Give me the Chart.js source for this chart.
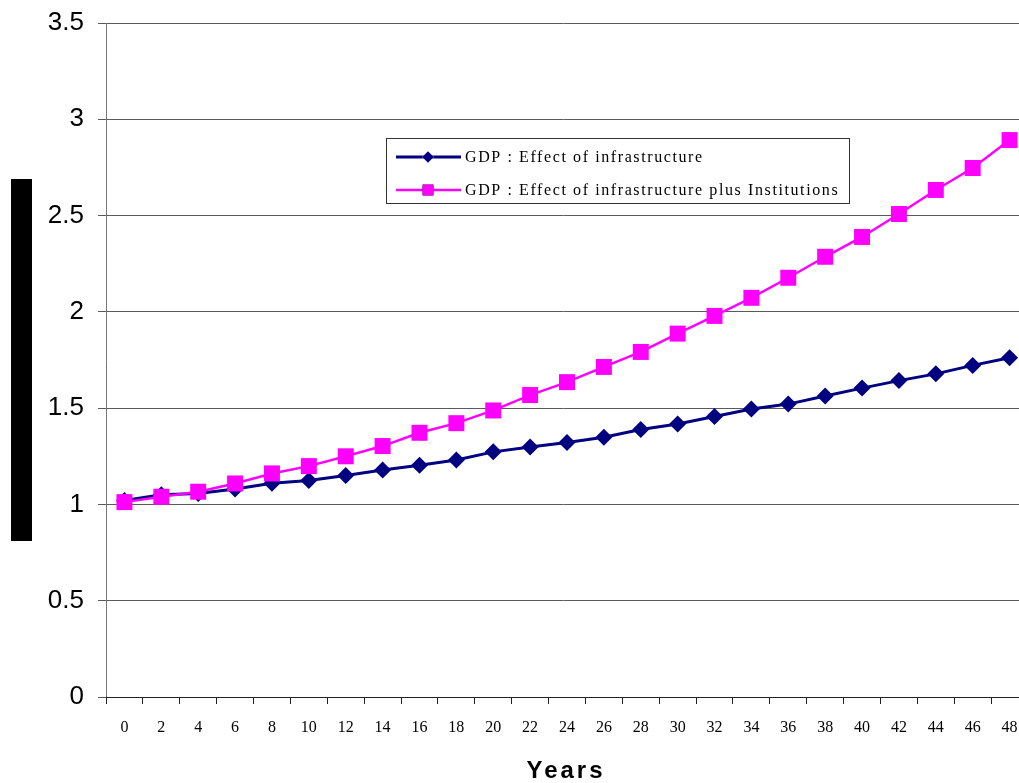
<!DOCTYPE html>
<html>
<head>
<meta charset="utf-8">
<script src="https://cdn.jsdelivr.net/npm/chart.js@4/dist/chart.umd.min.js"></script>
<style>
  html, body { margin: 0; padding: 0; background: #fff; overflow: hidden; }
  #wrap { width: 1019px; height: 783px; }
</style>
</head>
<body>
<div id="wrap"><canvas id="c" width="1019" height="783"></canvas></div>
<script>
// Years since the start of the simulation
const years = [0, 2, 4, 6, 8, 10, 12, 14, 16, 18, 20, 22, 24, 26, 28, 30, 32, 34, 36, 38, 40, 42, 44, 46, 48];

// GDP index (start = 1)
const gdpInfrastructure = [1.02, 1.05, 1.057, 1.08, 1.11, 1.124, 1.15, 1.179, 1.203, 1.231, 1.273, 1.298, 1.322,
  1.349, 1.389, 1.418, 1.457, 1.496, 1.521, 1.563, 1.604, 1.643, 1.678, 1.722, 1.762];
const gdpInfrastructureInstitutions = [1.012, 1.04, 1.066, 1.109, 1.161, 1.199, 1.25, 1.303, 1.372, 1.422, 1.488,
  1.568, 1.635, 1.714, 1.792, 1.887, 1.979, 2.073, 2.177, 2.286, 2.389, 2.508, 2.633, 2.747, 2.892];

const seriesNames = ['GDP : Effect of infrastructure', 'GDP : Effect of infrastructure plus Institutions'];
const axisTitleX = 'Years';

const NAVY = '#000080';
const MAGENTA = '#FF00FF';

// The plot area runs a little past the right edge of the canvas
const extendRight = {
  id: 'extendRight',
  afterLayout(chart) {
    const extra = 9;
    const x = chart.scales.x;
    x.right += extra;
    x.width += extra;
    chart.chartArea.right += extra;
    chart.chartArea.width += extra;
    x.configure();
  }
};

// Boxed legend inside the plot, the x-axis title and the dark bar beside the value axis
const decorations = {
  id: 'decorations',
  afterDraw(chart) {
    const ctx = chart.ctx;
    const hasSpacing = 'letterSpacing' in ctx;
    ctx.save();
    // bar to the left of the value axis
    ctx.fillStyle = '#000';
    ctx.fillRect(11, 179, 21, 362);

    // x-axis title, letter-spaced
    ctx.fillStyle = '#000';
    ctx.font = 'bold 24px "Liberation Sans", Arial, sans-serif';
    if (hasSpacing) ctx.letterSpacing = '3px';
    ctx.textAlign = 'center';
    ctx.textBaseline = 'middle';
    ctx.fillText(axisTitleX, 566, 771);
    if (hasSpacing) ctx.letterSpacing = '0px';

    // legend frame
    const lx = 386.5, ly = 138.5, lw = 463, lh = 65;
    ctx.fillStyle = '#fff';
    ctx.fillRect(lx, ly, lw, lh);
    ctx.strokeStyle = '#333';
    ctx.lineWidth = 1;
    ctx.strokeRect(lx, ly, lw, lh);

    const rows = [157, 190];
    chart.data.datasets.forEach((ds, i) => {
      const y = rows[i];
      ctx.strokeStyle = ds.borderColor;
      ctx.lineWidth = ds.borderWidth;
      ctx.beginPath();
      ctx.moveTo(396, y);
      ctx.lineTo(461, y);
      ctx.stroke();
      Chart.helpers.drawPoint(ctx, {
        pointStyle: ds.pointStyle,
        radius: ds.pointRadius * 0.68,
        borderWidth: 0
      }, 428, y);
      ctx.fillStyle = ds.pointBackgroundColor;
      ctx.fill();

      ctx.fillStyle = '#000';
      ctx.font = '16px "Liberation Serif", "Times New Roman", serif';
      if (hasSpacing) ctx.letterSpacing = '1.6px';
      ctx.textBaseline = 'middle';
      ctx.textAlign = 'left';
      ctx.fillText(ds.label, 465, y + 1);
      if (hasSpacing) ctx.letterSpacing = '0px';
    });
    ctx.restore();
  }
};

new Chart(document.getElementById('c'), {
  type: 'line',
  data: {
    labels: years,
    datasets: [
      {
        label: seriesNames[0],
        data: gdpInfrastructure,
        borderColor: NAVY,
        backgroundColor: NAVY,
        pointBackgroundColor: NAVY,
        pointBorderColor: NAVY,
        pointStyle: 'rectRot',
        pointRadius: 8.5,
        pointBorderWidth: 0,
        borderWidth: 3,
        tension: 0,
        clip: false,
        order: 1
      },
      {
        label: seriesNames[1],
        data: gdpInfrastructureInstitutions,
        borderColor: MAGENTA,
        backgroundColor: MAGENTA,
        pointBackgroundColor: MAGENTA,
        pointBorderColor: MAGENTA,
        pointStyle: 'rect',
        pointRadius: 11.3,
        pointBorderWidth: 0,
        borderWidth: 2.5,
        tension: 0,
        clip: false,
        order: 0
      }
    ]
  },
  options: {
    responsive: false,
    animation: false,
    events: [],
    layout: { autoPadding: false, padding: { top: 23, right: 0, left: 0, bottom: 0 } },
    plugins: {
      legend: { display: false },
      tooltip: { enabled: false }
    },
    scales: {
      x: {
        type: 'category',
        offset: true,
        grid: {
          offset: true,
          drawOnChartArea: false,
          drawTicks: true,
          tickLength: 7,
          color: '#222',
          lineWidth: 1
        },
        border: { display: true, color: '#222', width: 1, z: 1 },
        ticks: {
          color: '#000',
          padding: 14,
          maxRotation: 0,
          autoSkip: false,
          font: { family: '"Liberation Serif", "Times New Roman", serif', size: 16 }
        },
        title: { display: false },
        afterFit(scale) {
          scale.height = 86;
          scale.paddingLeft = 0;
          scale.paddingRight = 0;
        }
      },
      y: {
        min: 0,
        max: 3.5,
        ticks: {
          stepSize: 0.5,
          color: '#000',
          padding: 14,
          font: { family: '"Liberation Sans", Arial, sans-serif', size: 26 },
          callback: (v) => String(v)
        },
        grid: {
          color: '#5a5a5a',
          lineWidth: 1,
          drawTicks: true,
          tickLength: 8
        },
        border: { display: true, color: '#777', width: 1 },
        afterFit(scale) {
          scale.width = 106;
          scale.paddingTop = 0;
          scale.paddingBottom = 0;
        }
      }
    }
  },
  plugins: [extendRight, decorations]
});
</script>
</body>
</html>
